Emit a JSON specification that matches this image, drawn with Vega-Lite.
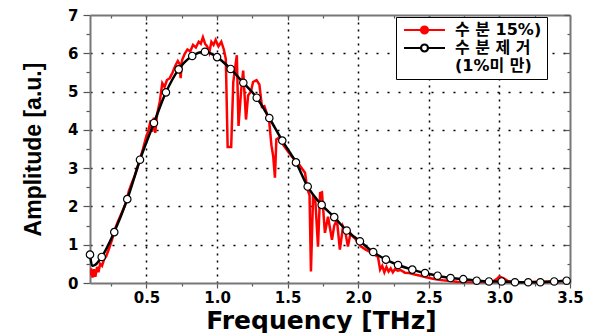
{
  "$schema": "https://vega.github.io/schema/vega-lite/v6.json",
  "width": 480,
  "height": 268,
  "autosize": {"type": "none"},
  "padding": {"left": 90, "top": 15, "right": 28, "bottom": 50},
  "background": "white",
  "config": {"view": {"stroke": null}, "font": "Liberation Sans"},
  "datasets": {
    "red": [
      {"f":0.100,"a":0.20},{"f":0.108,"a":0.38},{"f":0.118,"a":0.14},{"f":0.128,"a":0.36},{"f":0.138,"a":0.16},{"f":0.150,"a":0.42},{"f":0.160,"a":0.28},{"f":0.172,"a":0.50},{"f":0.185,"a":0.45},{"f":0.200,"a":0.62},{"f":0.215,"a":0.70},{"f":0.235,"a":0.90},{"f":0.255,"a":1.12},{"f":0.275,"a":1.38},{"f":0.295,"a":1.58},{"f":0.315,"a":1.75},{"f":0.335,"a":1.92},{"f":0.355,"a":2.10},{"f":0.375,"a":2.40},{"f":0.395,"a":2.60},{"f":0.415,"a":2.78},{"f":0.435,"a":3.00},{"f":0.455,"a":3.25},{"f":0.475,"a":3.50},{"f":0.495,"a":3.78},{"f":0.515,"a":4.00},{"f":0.530,"a":4.25},{"f":0.540,"a":3.95},{"f":0.552,"a":4.32},{"f":0.562,"a":3.92},{"f":0.575,"a":4.40},{"f":0.595,"a":4.75},{"f":0.612,"a":5.22},{"f":0.628,"a":5.12},{"f":0.645,"a":5.30},{"f":0.665,"a":5.35},{"f":0.685,"a":5.50},{"f":0.705,"a":5.68},{"f":0.722,"a":5.80},{"f":0.735,"a":5.72},{"f":0.742,"a":5.35},{"f":0.752,"a":5.82},{"f":0.770,"a":5.98},{"f":0.790,"a":6.10},{"f":0.810,"a":6.05},{"f":0.830,"a":6.22},{"f":0.850,"a":6.15},{"f":0.870,"a":6.30},{"f":0.885,"a":6.25},{"f":0.900,"a":6.42},{"f":0.915,"a":6.25},{"f":0.930,"a":6.18},{"f":0.945,"a":6.02},{"f":0.960,"a":6.30},{"f":0.975,"a":6.22},{"f":0.990,"a":6.35},{"f":1.010,"a":6.18},{"f":1.030,"a":6.30},{"f":1.048,"a":6.10},{"f":1.062,"a":5.85},{"f":1.075,"a":3.55},{"f":1.100,"a":3.55},{"f":1.115,"a":5.25},{"f":1.140,"a":5.95},{"f":1.152,"a":4.10},{"f":1.170,"a":5.00},{"f":1.185,"a":5.55},{"f":1.205,"a":4.27},{"f":1.220,"a":4.90},{"f":1.240,"a":5.00},{"f":1.255,"a":5.25},{"f":1.280,"a":5.30},{"f":1.300,"a":5.18},{"f":1.318,"a":4.60},{"f":1.335,"a":4.62},{"f":1.355,"a":4.40},{"f":1.370,"a":4.20},{"f":1.385,"a":3.60},{"f":1.398,"a":3.30},{"f":1.410,"a":2.75},{"f":1.420,"a":3.75},{"f":1.440,"a":3.80},{"f":1.470,"a":3.60},{"f":1.500,"a":3.45},{"f":1.530,"a":3.30},{"f":1.560,"a":3.20},{"f":1.580,"a":3.10},{"f":1.600,"a":3.00},{"f":1.623,"a":2.88},{"f":1.640,"a":2.45},{"f":1.655,"a":2.30},{"f":1.665,"a":0.30},{"f":1.680,"a":2.25},{"f":1.695,"a":2.22},{"f":1.715,"a":0.95},{"f":1.730,"a":2.35},{"f":1.743,"a":2.37},{"f":1.764,"a":1.31},{"f":1.786,"a":1.73},{"f":1.814,"a":1.13},{"f":1.830,"a":1.50},{"f":1.849,"a":1.65},{"f":1.870,"a":0.87},{"f":1.892,"a":1.47},{"f":1.910,"a":1.30},{"f":1.927,"a":0.95},{"f":1.945,"a":1.30},{"f":1.963,"a":1.21},{"f":1.980,"a":1.15},{"f":1.998,"a":1.05},{"f":2.020,"a":0.95},{"f":2.050,"a":0.88},{"f":2.080,"a":0.82},{"f":2.110,"a":0.75},{"f":2.140,"a":0.68},{"f":2.155,"a":0.35},{"f":2.170,"a":0.45},{"f":2.185,"a":0.28},{"f":2.200,"a":0.42},{"f":2.215,"a":0.30},{"f":2.230,"a":0.38},{"f":2.245,"a":0.28},{"f":2.260,"a":0.36},{"f":2.280,"a":0.32},{"f":2.300,"a":0.34},{"f":2.330,"a":0.27},{"f":2.360,"a":0.26},{"f":2.400,"a":0.22},{"f":2.440,"a":0.19},{"f":2.480,"a":0.15},{"f":2.520,"a":0.12},{"f":2.560,"a":0.09},{"f":2.600,"a":0.07},{"f":2.650,"a":0.05},{"f":2.700,"a":0.03},{"f":2.750,"a":0.02},{"f":2.800,"a":0.01},{"f":2.850,"a":0.01},{"f":2.900,"a":0.02},{"f":2.950,"a":0.03},{"f":2.980,"a":0.10},{"f":3.000,"a":0.17},{"f":3.030,"a":0.12},{"f":3.060,"a":0.05},{"f":3.100,"a":0.03},{"f":3.150,"a":0.02},{"f":3.200,"a":0.02},{"f":3.250,"a":0.03},{"f":3.300,"a":0.03},{"f":3.350,"a":0.04},{"f":3.400,"a":0.04},{"f":3.450,"a":0.05},{"f":3.500,"a":0.05}
    ],
    "black": [
      {"f":0.100,"a":0.74,"m":1},{"f":0.115,"a":0.45,"m":0},{"f":0.135,"a":0.47,"m":0},{"f":0.183,"a":0.68,"m":1},{"f":0.272,"a":1.33,"m":1},{"f":0.364,"a":2.19,"m":1},{"f":0.454,"a":3.22,"m":1},{"f":0.553,"a":4.18,"m":1},{"f":0.638,"a":4.98,"m":1},{"f":0.728,"a":5.58,"m":1},{"f":0.824,"a":5.93,"m":1},{"f":0.914,"a":6.04,"m":1},{"f":1.000,"a":5.90,"m":1},{"f":1.096,"a":5.59,"m":1},{"f":1.186,"a":5.23,"m":1},{"f":1.281,"a":4.84,"m":1},{"f":1.370,"a":4.31,"m":1},{"f":1.462,"a":3.72,"m":1},{"f":1.559,"a":3.15,"m":1},{"f":1.642,"a":2.52,"m":1},{"f":1.741,"a":2.04,"m":1},{"f":1.830,"a":1.72,"m":1},{"f":1.918,"a":1.37,"m":1},{"f":2.012,"a":1.09,"m":1},{"f":2.106,"a":0.81,"m":1},{"f":2.196,"a":0.61,"m":1},{"f":2.282,"a":0.47,"m":1},{"f":2.383,"a":0.35,"m":1},{"f":2.473,"a":0.26,"m":1},{"f":2.562,"a":0.19,"m":1},{"f":2.654,"a":0.13,"m":1},{"f":2.744,"a":0.10,"m":1},{"f":2.839,"a":0.06,"m":1},{"f":2.926,"a":0.04,"m":1},{"f":3.016,"a":0.04,"m":1},{"f":3.110,"a":0.02,"m":1},{"f":3.204,"a":0.02,"m":1},{"f":3.290,"a":0.02,"m":1},{"f":3.388,"a":0.04,"m":1},{"f":3.476,"a":0.06,"m":1}
    ]
  },
  "resolve": {"axis": {"x": "independent", "y": "independent"}},
  "layer": [
    {
      "data": {"name": "red"},
      "transform": [{"calculate": "'수 분 15%)'", "as": "s"}],
      "mark": {"type": "line", "strokeWidth": 2.5, "clip": true},
      "encoding": {
        "x": {
          "field": "f", "type": "quantitative",
          "scale": {"domain": [0.1, 3.5], "nice": false, "zero": false},
          "axis": {
            "orient": "bottom",
            "title": "Frequency [THz]",
            "titleFont": "DejaVu Sans", "titleFontSize": 25, "titleFontWeight": "bold", "titleColor": "#000",
            "titleBaseline": "alphabetic", "titleX": 231, "titleY": 45,
            "values": [0.25,0.5,0.75,1,1.25,1.5,1.75,2,2.25,2.5,2.75,3,3.25,3.5],
            "labelExpr": "datum.value % 0.5 == 0 ? format(datum.value, '.1f') : ''",
            "labelFont": "DejaVu Sans", "labelFontSize": 15, "labelFontWeight": "bold", "labelColor": "#000",
            "labelPadding": 2, "labelFlush": false, "labelOverlap": false,
            "tickSize": {"condition": {"test": "datum.value % 0.5 == 0", "value": 5}, "value": 3},
            "tickColor": "#555", "tickWidth": 1.2,
            "domainColor": "#777", "domainWidth": 2,
            "grid": true, "gridColor": "#000", "gridWidth": 1.5, "gridDash": [2, 5],
            "gridOpacity": {"condition": {"test": "datum.value % 0.5 == 0 && datum.value < 3.5", "value": 1}, "value": 0}
          }
        },
        "y": {
          "field": "a", "type": "quantitative",
          "scale": {"domain": [0, 7], "nice": false},
          "axis": {
            "orient": "left",
            "title": "Amplitude [a.u.]",
            "titleFont": "Liberation Sans", "titleFontSize": 23, "titleFontWeight": "bold", "titleColor": "#000",
            "titlePadding": 22,
            "values": [0,0.5,1,1.5,2,2.5,3,3.5,4,4.5,5,5.5,6,6.5,7],
            "labelExpr": "datum.value % 1 == 0 ? format(datum.value, 'd') : ''",
            "labelFont": "DejaVu Sans", "labelFontSize": 15, "labelFontWeight": "bold", "labelColor": "#000",
            "labelPadding": 5, "labelFlush": false, "labelOverlap": false,
            "tickSize": {"condition": {"test": "datum.value % 1 == 0", "value": 7}, "value": 4},
            "tickColor": "#555", "tickWidth": 1.2,
            "domainColor": "#777", "domainWidth": 2,
            "grid": true, "gridColor": "#000", "gridWidth": 1.5, "gridDash": [2, 9],
            "gridOpacity": {"condition": {"test": "datum.value % 1 == 0 && datum.value > 0 && datum.value < 7", "value": 1}, "value": 0}
          }
        },
        "color": {
          "field": "s", "type": "nominal",
          "scale": {"domain": ["수 분 15%)", "수 분 제 거|(1%미 만)"], "range": ["#ff0000", "#000000"]},
          "legend": {
            "title": null,
            "orient": "none", "legendX": 306, "legendY": 2,
            "fillColor": "white", "strokeColor": "#000", "padding": 5,
            "symbolType": "M-1,0L2.4,0M3.8,0L7.2,0M2.4,0A0.7,0.7,0,1,0,3.8,0A0.7,0.7,0,1,0,2.4,0Z",
            "symbolSize": 100, "symbolStrokeWidth": 2.2,
            "labelExpr": "split(datum.label, '|')",
            "labelFont": "'DejaVu Sans', 'Noto Sans CJK KR'", "labelFontSize": 16, "labelFontWeight": "bold", "labelColor": "#000",
            "labelOffset": 38, "rowPadding": 2, "labelLimit": 300,
            "encode": {
              "symbols": {"update": {"fill": {"signal": "indexof(datum.value, '15') >= 0 ? '#ff0000' : '#ffffff'"}, "fillOpacity": {"value": 1}}},
              "labels": {"update": {"lineHeight": {"value": 18}}}
            }
          }
        }
      }
    },
    {
      "data": {"name": "black"},
      "transform": [{"calculate": "'수 분 제 거|(1%미 만)'", "as": "s"}],
      "mark": {"type": "line", "strokeWidth": 2.5, "interpolate": "monotone"},
      "encoding": {
        "x": {
          "field": "f", "type": "quantitative",
          "axis": {
            "orient": "top", "title": null, "labels": false, "grid": false,
            "values": [0.25,0.5,0.75,1,1.25,1.5,1.75,2,2.25,2.5,2.75,3,3.25,3.5],
            "tickSize": {"condition": {"test": "datum.value % 0.5 == 0", "value": -5}, "value": -3},
            "tickColor": "#555", "tickWidth": 1.2,
            "domainColor": "#777", "domainWidth": 2
          }
        },
        "y": {
          "field": "a", "type": "quantitative",
          "axis": {
            "orient": "right", "title": null, "labels": false, "grid": false,
            "values": [0,0.5,1,1.5,2,2.5,3,3.5,4,4.5,5,5.5,6,6.5,7],
            "tickSize": {"condition": {"test": "datum.value % 1 == 0", "value": -6}, "value": -3},
            "tickColor": "#555", "tickWidth": 1.2,
            "domainColor": "#777", "domainWidth": 2
          }
        },
        "color": {"field": "s", "type": "nominal"}
      }
    },
    {
      "data": {"name": "black"},
      "transform": [{"filter": "datum.m == 1"}],
      "mark": {"type": "point", "shape": "circle", "filled": true, "fill": "#ffffff", "stroke": "#000000", "strokeWidth": 1.2, "size": 55, "opacity": 1},
      "encoding": {
        "x": {"field": "f", "type": "quantitative", "axis": null},
        "y": {"field": "a", "type": "quantitative", "axis": null}
      }
    }
  ]
}
